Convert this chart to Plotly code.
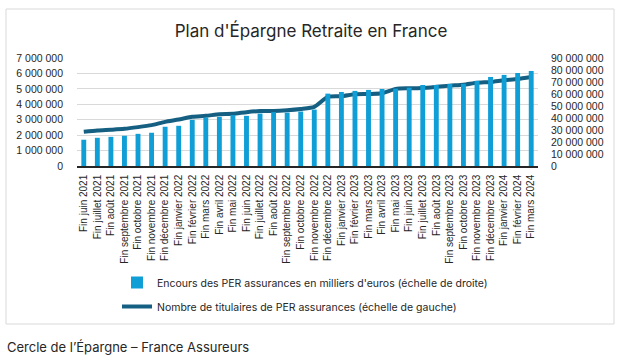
import plotly.graph_objects as go

categories = [
    "Fin juin 2021", "Fin juillet 2021", "Fin août 2021", "Fin septembre 2021",
    "Fin octobre 2021", "Fin novembre 2021", "Fin décembre 2021",
    "Fin janvier 2022", "Fin février 2022", "Fin mars 2022", "Fin avril 2022",
    "Fin mai 2022", "Fin juin 2022", "Fin juillet 2022", "Fin août 2022",
    "Fin septembre 2022", "Fin octobre 2022", "Fin novembre 2022", "Fin décembre 2022",
    "Fin janvier 2023", "Fin février 2023", "Fin mars 2023", "Fin avril 2023",
    "Fin mai 2023", "Fin juin 2023", "Fin juillet 2023", "Fin août 2023",
    "Fin septembre 2023", "Fin octobre 2023", "Fin novembre 2023", "Fin décembre 2023",
    "Fin janvier 2024", "Fin février 2024", "Fin mars 2024",
]

# Encours des PER assurances en milliers d'euros (right scale)
encours = [
    21.9e6, 23.5e6, 24.3e6, 25.2e6, 26.8e6, 27.7e6, 32.7e6,
    33.5e6, 38.5e6, 40.4e6, 41.0e6, 42.4e6, 41.8e6, 43.7e6, 44.9e6,
    44.5e6, 45.4e6, 47.0e6, 60.3e6, 61.7e6, 62.6e6, 63.4e6, 64.2e6,
    64.5e6, 65.3e6, 67.5e6, 67.5e6, 68.4e6, 68.5e6, 70.9e6, 74.2e6,
    75.9e6, 77.5e6, 79.2e6,
]

# Nombre de titulaires de PER assurances (left scale)
titulaires = [
    2.22e6, 2.30e6, 2.35e6, 2.41e6, 2.52e6, 2.65e6, 2.86e6,
    3.01e6, 3.19e6, 3.25e6, 3.36e6, 3.38e6, 3.49e6, 3.56e6, 3.57e6,
    3.62e6, 3.70e6, 3.83e6, 4.48e6, 4.52e6, 4.65e6, 4.67e6, 4.72e6,
    5.00e6, 5.04e6, 5.06e6, 5.13e6, 5.21e6, 5.27e6, 5.40e6, 5.45e6,
    5.56e6, 5.64e6, 5.77e6,
]

bar_name = "Encours des PER assurances en milliers d'euros (échelle de droite)"
line_name = "Nombre de titulaires de PER assurances (échelle de gauche)"
title_text = "Plan d'Épargne Retraite en France"
source_text = "Cercle de l’Épargne – France Assureurs"

W, H = 627, 364
L, R, T, B = 77, 538, 58, 166


def px2x(px):
    return (px - L) / (R - L)


def py2y(py):
    return (B - py) / (B - T)


fig = go.Figure()
fig.add_trace(go.Bar(
    x=categories, y=encours, name=bar_name, yaxis="y2",
    marker=dict(color="#0F9ED5", line=dict(width=0)),
    legendgroup="a",
))
fig.add_trace(go.Scatter(
    x=categories, y=titulaires, name=line_name, yaxis="y",
    mode="lines", line=dict(color="#156082", width=4, shape="spline", smoothing=0.6),
    legendgroup="b",
))

tick_font = dict(family="Liberation Sans, Arial, sans-serif", size=10.5, color="#262626")

fig.update_layout(
    width=W, height=H,
    margin=dict(l=L, r=W - R, t=T, b=H - B, pad=0, autoexpand=False),
    paper_bgcolor="white", plot_bgcolor="white",
    separators=", ",
    bargap=0.64,
    title=dict(
        text=title_text, x=311 / W, xanchor="center", y=1 - 31 / H, yanchor="middle",
        font=dict(family="Inter, Noto Sans, sans-serif", size=17, color="#262626"),
    ),
    xaxis=dict(
        type="category", tickangle=-90, tickfont=dict(tick_font, size=10),
        showline=True, linecolor="#262626", linewidth=1.5, showgrid=False,
        ticks="", ticklabelstandoff=3, automargin=False,
    ),
    yaxis=dict(
        range=[0, 7e6], dtick=1e6, tickformat=",d", tickfont=tick_font,
        showgrid=True, gridcolor="#d9d9d9", gridwidth=1, zeroline=False,
        showline=False, ticks="", ticklabelstandoff=13, automargin=False,
    ),
    yaxis2=dict(
        range=[0, 90e6], dtick=10e6, tickformat=",d", tickfont=tick_font,
        overlaying="y", side="right", showgrid=False, zeroline=False,
        showline=False, ticks="", ticklabelstandoff=12, automargin=False,
    ),
    legend=dict(
        xref="container", yref="container", x=117 / W, y=1 - 268 / H,
        xanchor="left", yanchor="top", orientation="v",
        font=dict(family="Inter, Noto Sans, sans-serif", size=10.5, color="#262626"),
        tracegroupgap=5, itemwidth=30, bgcolor="rgba(0,0,0,0)",
    ),
    shapes=[dict(
        type="rect", xref="paper", yref="paper",
        x0=px2x(6), x1=px2x(614), y0=py2y(9), y1=py2y(324),
        line=dict(color="#d9d9d9", width=1), layer="below",
    )],
    annotations=[dict(
        text=source_text, xref="paper", yref="paper",
        x=px2x(5), y=py2y(347), xanchor="left", yanchor="middle", showarrow=False,
        font=dict(family="Inter, Noto Sans, sans-serif", size=13, color="#262626"),
    )],
)

fig.write_html(
    "out.html",
    config={"displayModeBar": False},
    post_script="document.body.style.margin='0';document.body.style.padding='0';",
)
